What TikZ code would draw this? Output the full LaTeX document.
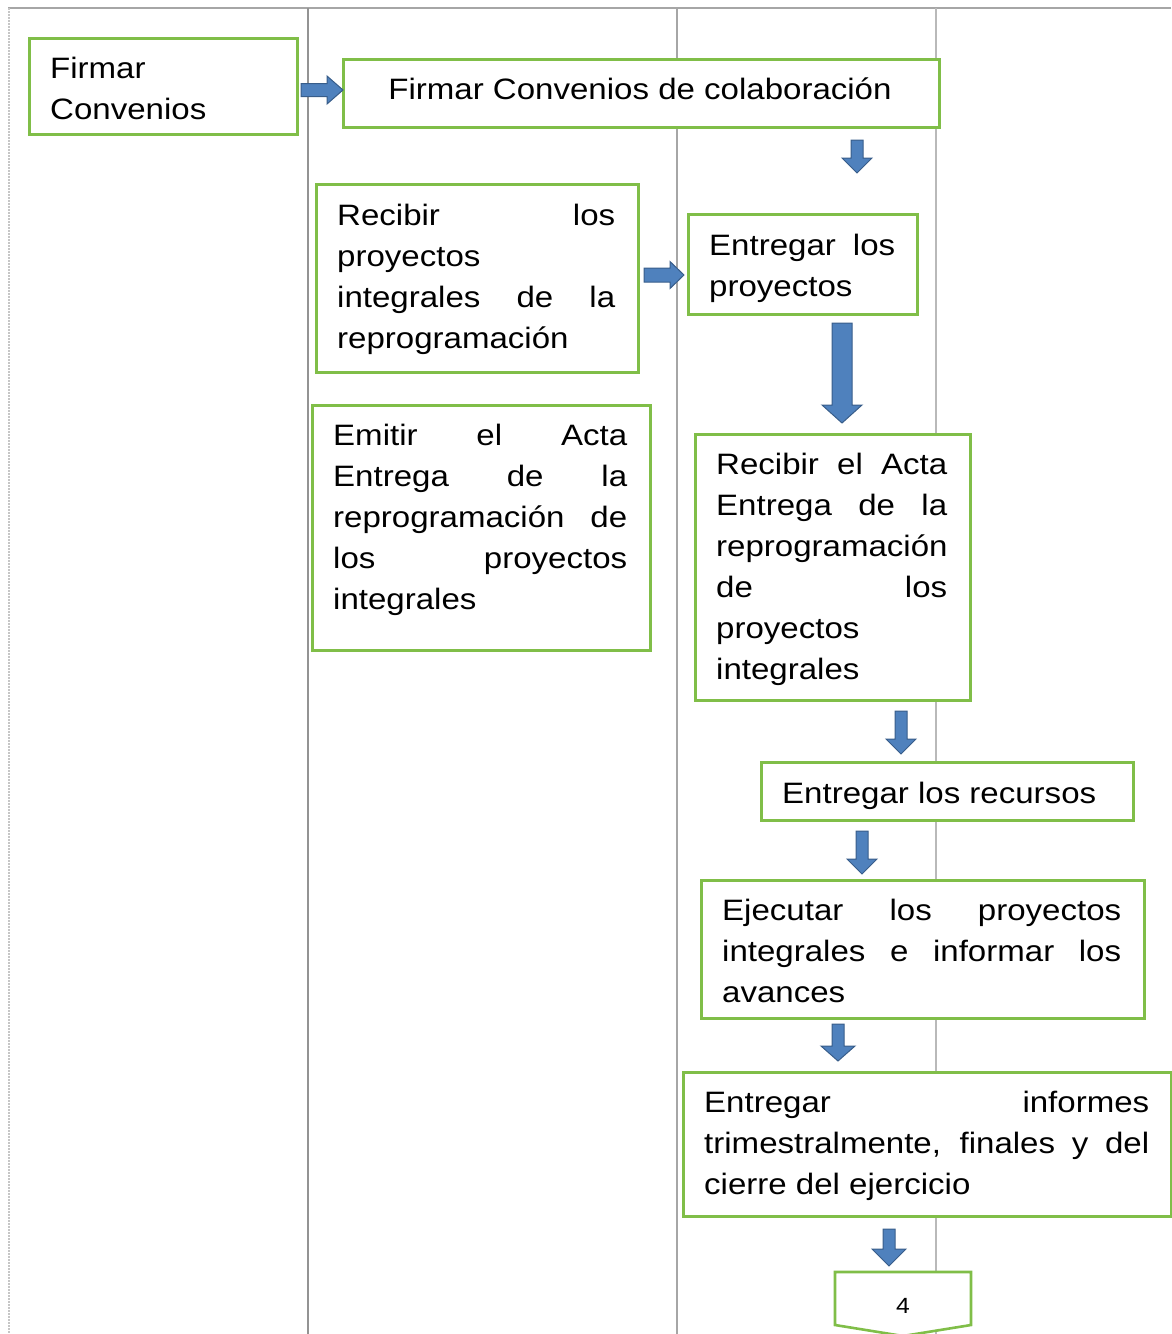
\documentclass[tikz,border=0pt]{standalone}
\usepackage{fontspec}
\setmainfont{Liberation Sans}[FakeStretch=1.12]
\definecolor{boxgreen}{RGB}{128,190,72}
\definecolor{arrfill}{RGB}{79,129,189}
\definecolor{arrline}{RGB}{56,93,138}
\newcommand\jl[2]{\makebox[#1][s]{#2}}
\newcommand\blkdown[6]{% x, ytop, ytip, shafthalf, headhalf, headlen
  \draw[blockarr] (#1-#4,#2) -- (#1+#4,#2) -- (#1+#4,#3-#6) -- (#1+#5,#3-#6) -- (#1,#3)
    -- (#1-#5,#3-#6) -- (#1-#4,#3-#6) -- cycle;}
\newcommand\blkright[6]{% y, xstart, xtip, shafthalf, headhalf, headlen
  \draw[blockarr] (#2,#1-#4) -- (#3-#6,#1-#4) -- (#3-#6,#1-#5) -- (#3,#1) -- (#3-#6,#1+#5)
    -- (#3-#6,#1+#4) -- (#2,#1+#4) -- cycle;}
\begin{document}
\begin{tikzpicture}[x=1pt,y=-1pt,
  box/.style={draw=boxgreen, line width=2.6pt, fill=white, anchor=north west, inner sep=0pt},
  txt/.style={inner sep=0pt, anchor=base west, font=\fontsize{29.5}{41}\selectfont},
  blockarr/.style={fill=arrfill, draw=arrline, line width=1pt, line join=miter},
  lane/.style={draw=gray!70, line width=1.8pt}]
\useasboundingbox (0,0) rectangle (1171,1334);
% swimlane lines
\draw[lane] (8,8) -- (1171,8);
\draw[draw=gray!45, line width=2pt, densely dotted] (9,8) -- (9,1334);
\draw[draw=gray!85, line width=1.6pt] (308,8) -- (308,1334);
\draw[lane] (677,8) -- (677,1334);
\draw[draw=gray!55, line width=2.4pt] (936,8) -- (936,1334);
% boxes
\node[box, minimum width=268, minimum height=96] (b1) at (28,37) {};
\node[txt] (t1) at (50,78) {\parbox[t]{240pt}{Firmar\\Convenios}};
\node[box, minimum width=596, minimum height=68] (b2) at (342,58) {};
\node[inner sep=0pt, anchor=base, font=\fontsize{29.5}{41}\selectfont] (t2) at (640,99) {Firmar Convenios de colaboración};
\node[box, minimum width=322, minimum height=188] (b3) at (315,183) {};
\node[txt] (t3) at (337,225) {\parbox[t]{278pt}{\jl{278pt}{Recibir los}\\proyectos\\\jl{278pt}{integrales de la}\\reprogramación}};
\node[box, minimum width=229, minimum height=100] (b4) at (687,213) {};
\node[txt] (t4) at (709,255) {\parbox[t]{186pt}{\jl{186pt}{Entregar los}\\proyectos}};
\node[box, minimum width=338, minimum height=245] (b5) at (311,404) {};
\node[txt] (t5) at (333,445) {\parbox[t]{294pt}{\jl{294pt}{Emitir el Acta}\\\jl{294pt}{Entrega de la}\\\jl{294pt}{reprogramación de}\\\jl{294pt}{los proyectos}\\integrales}};
\node[box, minimum width=275, minimum height=266] (b6) at (694,433) {};
\node[txt] (t6) at (716,474) {\parbox[t]{231pt}{\jl{231pt}{Recibir el Acta}\\\jl{231pt}{Entrega de la}\\reprogramación\\\jl{231pt}{de los}\\proyectos\\integrales}};
\node[box, minimum width=372, minimum height=58] (b7) at (760,761) {};
\node[txt] (t7) at (782,803) {Entregar los recursos};
\node[box, minimum width=443, minimum height=138] (b8) at (700,879) {};
\node[txt] (t8) at (722,920) {\parbox[t]{399pt}{\jl{399pt}{Ejecutar los proyectos}\\\jl{399pt}{integrales e informar los}\\avances}};
\node[box, minimum width=488, minimum height=144] (b9) at (682,1071) {};
\node[txt] (t9) at (704,1112) {\parbox[t]{445pt}{\jl{445pt}{Entregar informes}\\\jl{445pt}{trimestralmente, finales y del}\\cierre del ejercicio}};
% off-page connector
\draw[draw=boxgreen, line width=2.6pt, fill=white] (835,1272) -- (971,1272) -- (971,1325) -- (903,1336) -- (835,1325) -- cycle;
\node[inner sep=0pt, anchor=base, font=\fontsize{22}{26}\selectfont] (conn) at (903,1313) {4};
% block arrows
\blkright{90}{301}{343}{6.5}{14}{16}
\blkdown{857}{140}{173}{6}{15}{15}
\blkright{275}{644}{684}{7}{13.5}{14}
\blkdown{842}{323}{423}{10}{20}{18}
\blkdown{901}{711}{754}{6}{15}{15}
\blkdown{862}{831}{874}{6}{15}{15}
\blkdown{838}{1024}{1061}{6}{17}{15}
\blkdown{889}{1229}{1266}{6}{17}{17}
\end{tikzpicture}
\end{document}
